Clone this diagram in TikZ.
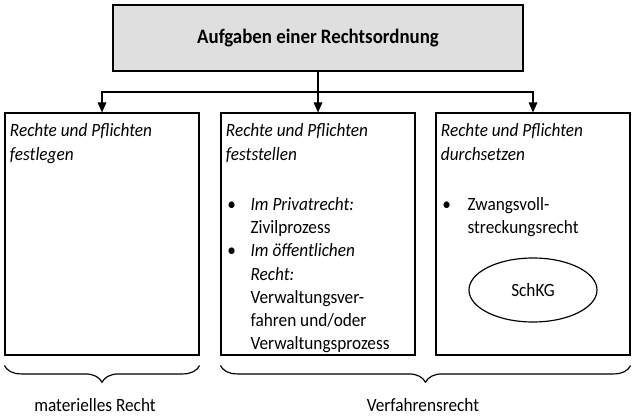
\documentclass[tikz,border=0pt]{standalone}
\usepackage{fontspec}
\setmainfont{Carlito}[FakeStretch=0.92]
\usetikzlibrary{arrows.meta,shapes.geometric,decorations.pathreplacing}

\tikzset{
	box/.style = {draw, line width=1pt, minimum width=58.2mm, minimum height=72.6mm},
	arr/.style = {line width=1pt, -{Triangle[length=3mm,width=2.6mm]}},
	txt/.style = {anchor=north west, inner sep=0pt, align=left, font=\fontsize{16}{19.7}\selectfont},
	brc/.style = {line width=1pt, decorate, decoration={brace, mirror, amplitude=5mm}}
}

\begin{document}
\begin{tikzpicture}[x=0.3mm, y=-0.3mm]
	\useasboundingbox (0,0) rectangle (636,416);
	\node [draw, line width=1pt, fill=gray!25, minimum width=123mm, minimum height=19.8mm] (top) at (318,38)
		{\fontsize{17.5}{20}\selectfont\bfseries Aufgaben einer Rechtsordnung};
	\node [box] (box1) at (102,234) {};
	\node [box] (box2) at (318,234) {};
	\node [box] (box3) at (533,234) {};
	\coordinate (split) at (318,92);
	\draw [line width=1pt] (top) -- (split);
	\draw [arr] (split) -| (box1.north);
	\draw [arr] (split) -- (box2.north);
	\draw [arr] (split) -| (box3.north);
	% Texte in den Kaesten
	\node [txt] (t1) at ([xshift=1.6mm,yshift=-3.4mm]box1.north west) {\itshape Rechte und Pflichten\\ \itshape festlegen};
	\node [txt] (t2) at ([xshift=1.6mm,yshift=-3.4mm]box2.north west) {\itshape Rechte und Pflichten\\ \itshape feststellen};
	\node [txt] (t3) at ([xshift=1.6mm,yshift=-3.4mm]box3.north west) {\itshape Rechte und Pflichten\\ \itshape durchsetzen};
	\node [txt] (l2) at ([xshift=2mm,yshift=-24.6mm]box2.north west)
		{\begin{tabular}{@{}p{7mm}@{}l@{}}
			\textbullet & \itshape Im Privatrecht:\\
			 & Zivilprozess\\
			\textbullet & \itshape Im öffentlichen\\
			 & \itshape Recht:\\
			 & Verwaltungsver-\\
			 & fahren und/oder\\
			 & Verwaltungsprozess
		\end{tabular}};
	\node [txt] (l3) at ([xshift=2mm,yshift=-24.6mm]box3.north west)
		{\begin{tabular}{@{}p{7.6mm}@{}l@{}}
			\textbullet & Zwangsvoll-\\
			 & streckungsrecht
		\end{tabular}};
	\node [draw, ellipse, line width=1pt, minimum width=38.4mm, minimum height=19.2mm, font=\fontsize{16}{20}\selectfont] (schkg) at (533,290) {SchKG};
	% Klammern
	\draw [brc] ([yshift=-3mm]box1.south west) -- ([yshift=-3mm]box1.south east);
	\draw [brc] ([yshift=-3mm]box2.south west) -- ([yshift=-3mm]box3.south east);
	\node [font=\fontsize{16}{20}\selectfont] (mat) at (95,405) {materielles Recht};
	\node [font=\fontsize{16}{20}\selectfont] (verf) at (423,405) {Verfahrensrecht};
\end{tikzpicture}
\end{document}
